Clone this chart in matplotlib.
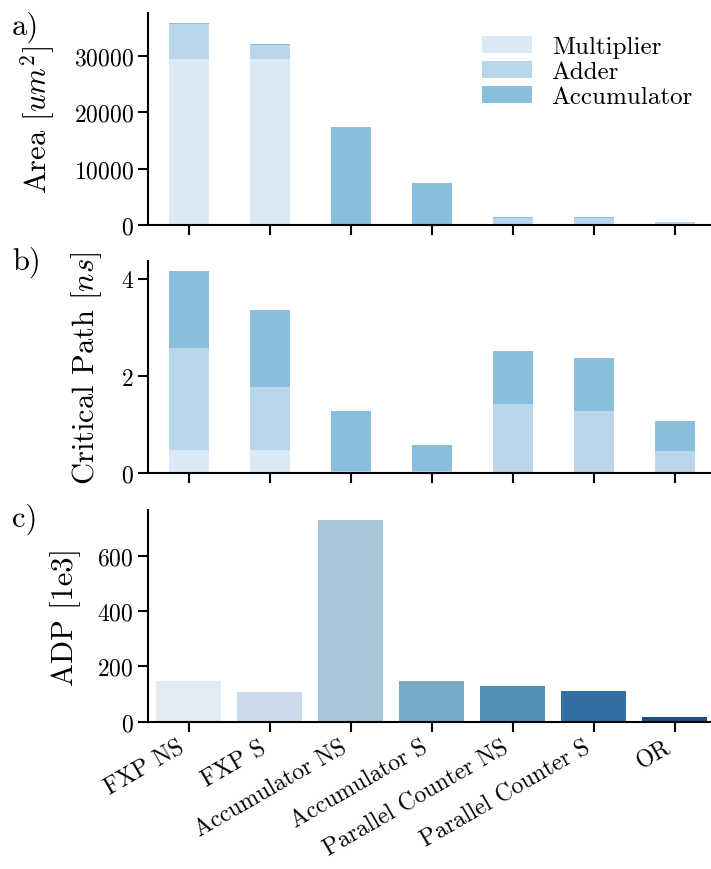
import numpy as np
import matplotlib
matplotlib.use("Agg")
import matplotlib.pyplot as plt
import seaborn as sns

designs = ["FXP NS", "FXP S", "Accumulator NS", "Accumulator S",
           "Parallel Counter NS", "Parallel Counter S", "OR"]
parts = ["Multiplier", "Adder", "Accumulator"]

# area [um^2] per component
area_mult = [29400, 29400, 0, 0, 0, 0, 0]
area_add = [6300, 2600, 0, 0, 1250, 1250, 450]
area_acc = [150, 150, 17400, 7400, 120, 120, 80]

# critical path [ns] per component
cp_mult = [0.48, 0.48, 0.0, 0.0, 0.03, 0.03, 0.03]
cp_add = [2.10, 1.30, 0.04, 0.04, 1.40, 1.25, 0.43]
cp_acc = [1.57, 1.57, 1.24, 0.54, 1.09, 1.10, 0.62]

# area-delay product [1e3]
adp = [148, 108, 730, 148, 127, 112, 17]

sns.set_style("ticks")
plt.rcParams["font.family"] = "serif"
plt.rcParams["font.serif"] = ["cmr10"]
plt.rcParams["mathtext.fontset"] = "cm"
plt.rcParams["axes.formatter.use_mathtext"] = True
plt.rcParams["axes.unicode_minus"] = False
plt.rcParams["axes.linewidth"] = 1.5
plt.rcParams["axes.edgecolor"] = "black"
plt.rcParams["xtick.color"] = "black"
plt.rcParams["ytick.color"] = "black"
plt.rcParams["text.color"] = "black"
plt.rcParams["axes.labelcolor"] = "black"
plt.rcParams["xtick.major.width"] = 1.5
plt.rcParams["ytick.major.width"] = 1.5
plt.rcParams["xtick.major.size"] = 7
plt.rcParams["ytick.major.size"] = 7
plt.rcParams["xtick.labelsize"] = 17
plt.rcParams["ytick.labelsize"] = 17
plt.rcParams["axes.labelsize"] = 22
plt.rcParams["axes.labelpad"] = 12

blues = sns.color_palette("Blues")
stack_colors = blues[:3]
adp_colors = [sns.desaturate(c, 0.75) for c in sns.color_palette("Blues", 7)]

fig = plt.figure(figsize=(7.11, 8.7), dpi=100)
left, width, height = 0.2086, 0.7975, 0.2437
ax1 = fig.add_axes([left, 0.7402, width, height])
ax2 = fig.add_axes([left, 0.4548, width, height])
ax3 = fig.add_axes([left, 0.1695, width, height])

x = np.arange(len(designs))

# a) area
bottom = np.zeros(len(designs))
for name, vals, c in zip(parts, [area_mult, area_add, area_acc], stack_colors):
    ax1.bar(x, vals, 0.5, bottom=bottom, color=c, label=name, linewidth=0)
    bottom += np.array(vals)
ax1.set_ylabel("Area $[um^2]$")
ax1.set_yticks([0, 10000, 20000, 30000])
ax1.legend(frameon=False, loc="upper right", fontsize=18,
           bbox_to_anchor=(1.0, 1.0), handlelength=2.0,
           handletextpad=0.8, labelspacing=0.1)

# b) critical path
bottom = np.zeros(len(designs))
for name, vals, c in zip(parts, [cp_mult, cp_add, cp_acc], stack_colors):
    ax2.bar(x, vals, 0.5, bottom=bottom, color=c, label=name, linewidth=0)
    bottom += np.array(vals)
ax2.set_ylabel("Critical Path $[ns]$")
ax2.set_yticks([0, 2, 4])

# c) ADP
ax3.bar(x, adp, 0.8, color=adp_colors, linewidth=0)
ax3.set_ylabel("ADP [1e3]")
ax3.set_yticks([0, 200, 400, 600])

for ax in (ax1, ax2, ax3):
    ax.set_xlim(-0.5, 6.5)
    ax.set_xticks(x)
    sns.despine(ax=ax)
ax1.set_xticklabels([])
ax2.set_xticklabels([])
ax3.set_xticklabels(designs, rotation=30, ha="right")

fig.text(0.017, 0.968, "a)", fontsize=22, va="center")
fig.text(0.017, 0.698, "b)", fontsize=22, va="center")
fig.text(0.017, 0.403, "c)", fontsize=22, va="center")

fig.savefig("out.png", dpi=100)
